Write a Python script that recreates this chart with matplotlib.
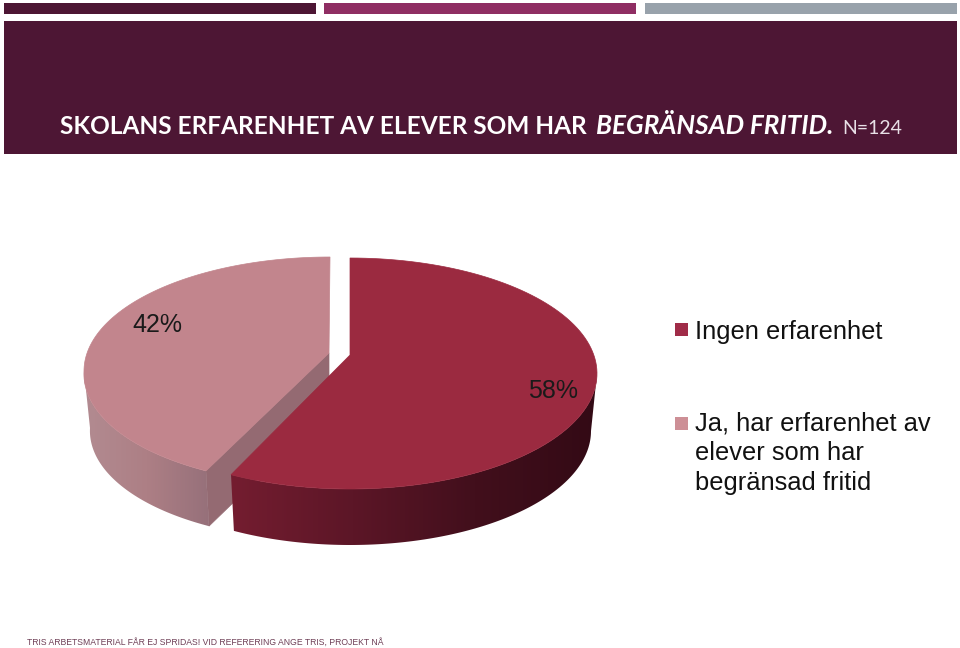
import numpy as np, matplotlib
matplotlib.use("Agg")
import matplotlib.pyplot as plt
from matplotlib.colors import LinearSegmentedColormap
from matplotlib.patches import Rectangle, Polygon

# === Data ===
labels = ["Ingen erfarenhet", "Ja, har erfarenhet av\nelever som har\nbegränsad fritid"]
percent = [58, 42]
title_bold = "SKOLANS ERFARENHET AV ELEVER SOM HAR"
title_italic = "BEGRÄNSAD FRITID."
title_n = "N=124"
footer = "TRIS ARBETSMATERIAL FÅR EJ SPRIDAS! VID REFERERING ANGE TRIS, PROJEKT NÅ"

# === Colours ===
DARK, PLUM, GREY = "#4d1634", "#8f2e63", "#98a2ab"
TOP = ["#9b2a40", "#c2858d"]
SWATCH = ["#a02c48", "#cd8f96"]
CUT = "#946a72"
WALL = [LinearSegmentedColormap.from_list("r", ["#741d30", "#5c1627", "#420f1c", "#330a15"]),
        LinearSegmentedColormap.from_list("p", ["#b28b91", "#ad7f85", "#96707a"])]

fig = plt.figure(figsize=(9.6, 6.48), dpi=100)
ax = fig.add_axes([0, 0, 1, 1]); ax.axis("off")

# === Header ===
for x0, x1, c, h in [(4, 316, DARK, 11), (324, 636, PLUM, 10.5), (644.5, 957, GREY, 11)]:
    ax.add_patch(Rectangle((x0, 3), x1 - x0, h, fc=c, ec="none"))
ax.add_patch(Rectangle((4, 21), 953, 133, fc=DARK, ec="none"))
ax.text(60, 134, title_bold, family="Lato", weight="bold", size=17.55, color="white", va="baseline")
ax.text(596, 134, title_italic, family="Lato", weight="bold", style="italic", size=18.8, color="white", va="baseline")
ax.text(842, 134, title_n, family="Lato", size=14, color="#e8dfe6", va="baseline")

# === Pie ===
def arc(cx, cy, rx, ry, a0, a1, skew=0.0, n=120):
    t = np.radians(np.linspace(a0, a1, n))
    x = cx + rx * np.sin(t); y = cy - ry * np.cos(t)
    return x - skew * np.maximum(0, y - cy), y

def wall(tx, ty, wx, wy, cmap):
    # degradado horizontal recortado a la pared
    xs = np.r_[tx, wx[::-1]]; ys = np.r_[ty, wy[::-1]]
    box = [xs.min(), xs.max(), ys.max(), ys.min()]
    im = ax.imshow(np.linspace(0, 1, 256)[None, :], cmap=cmap, extent=box, aspect="auto", zorder=2)
    im.set_clip_path(Polygon(np.c_[xs, ys], transform=ax.transData))

split = 360 * percent[0] / sum(percent)

# rosa: sale un poco hacia la izquierda
px, py, skew = 330, 371, 0.055
wx, wy = arc(px, py + 57, 240, 112, split, 270, skew)
tx, ty = arc(px, py, 246, 114, split, 270, skew)
ax.fill([329, tx[0], wx[0], 329], [353, ty[0], wy[0], 410], fc=CUT, ec=CUT, lw=.5, zorder=2)
wall(tx, ty, wx, wy, WALL[1])
fx, fy = arc(px, py, 246, 114, split, 360, skew)
ax.fill(np.r_[329, fx], np.r_[353, fy], fc=TOP[1], ec=TOP[1], lw=.5, zorder=3)

# rojo
cx, cy = 350, 373.5
tx, ty = arc(cx, cy, 247, 115.5, 90, split)
wx, wy = arc(cx, cy + 57.5, 241, 114, 90, split)
wall(tx, ty, wx, wy, WALL[0])
fx, fy = arc(cx, cy, 247, 115.5, 0, split)
ax.fill(np.r_[cx, fx], np.r_[355, fy], fc=TOP[0], ec=TOP[0], lw=.5, zorder=4)

ax.text(553.5, 391, f"{percent[0]}%", family="Liberation Sans", size=18, color="#1a1a1a", ha="center", va="center", zorder=5)
ax.text(157.5, 325.5, f"{percent[1]}%", family="Liberation Sans", size=18, color="#1a1a1a", ha="center", va="center", zorder=5)

# === Leyenda ===
for lab, col, sy, base in zip(labels, SWATCH, [323, 416.5], [339, 431]):
    ax.add_patch(Rectangle((675, sy), 13, 13, fc=col, ec="none"))
    for j, line in enumerate(lab.split("\n")):
        ax.text(695, base + j * 29.5, line, family="Liberation Sans", size=18.35, color="#111111", va="baseline")

ax.text(27, 644.5, footer, family="Liberation Sans", size=6.2, color="#6e3f56", va="baseline")
ax.set_xlim(0, 960); ax.set_ylim(648, 0)
fig.savefig("out.png", dpi=100)
